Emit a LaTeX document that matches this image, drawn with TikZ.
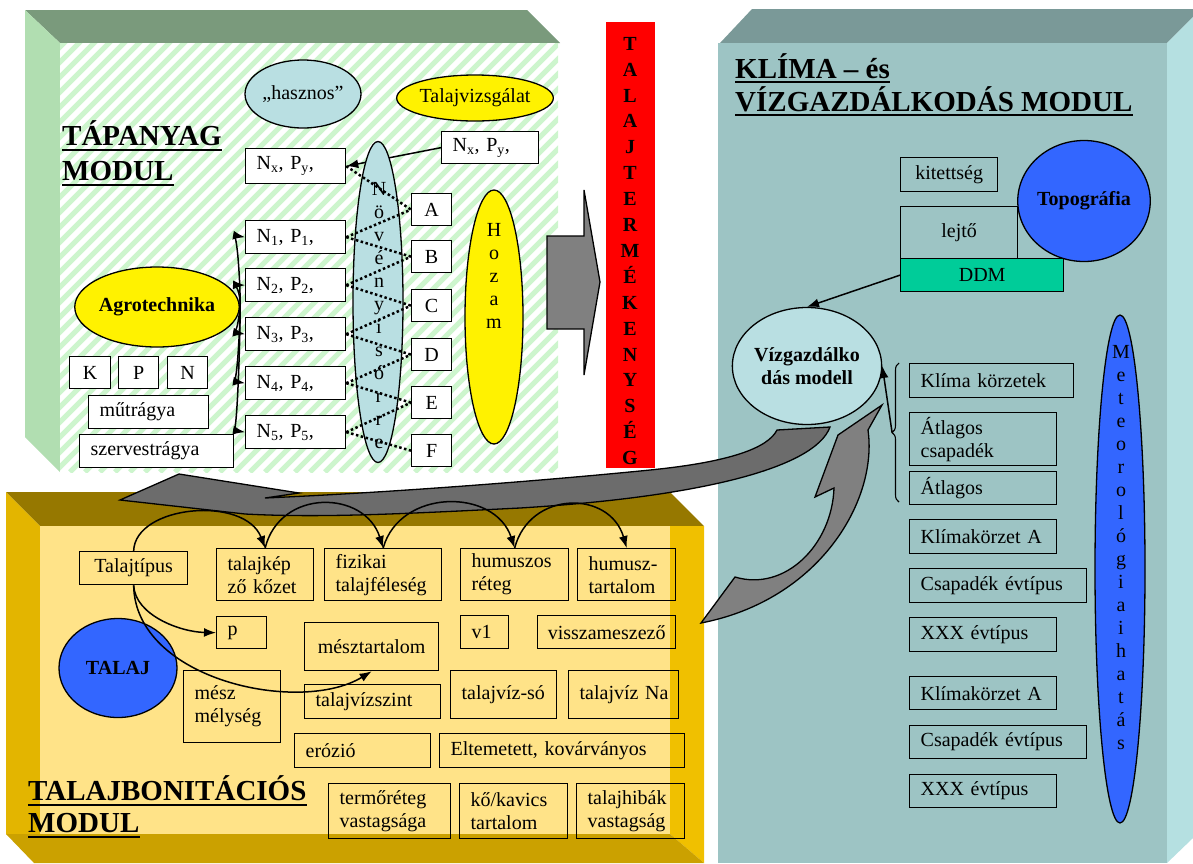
\documentclass[tikz,border=0pt]{standalone}
\usepackage{fontspec}
\setmainfont{Liberation Serif}
\usepackage{xcolor}
\usetikzlibrary{shapes,arrows,positioning,calc,shapes.geometric,arrows.meta,decorations.pathreplacing}
\definecolor{tapzold}{RGB}{122,154,124}
\definecolor{tapoldal}{RGB}{177,222,177}
\definecolor{tapcsik}{RGB}{205,245,205}
\definecolor{klteto}{RGB}{122,153,152}
\definecolor{klelo}{RGB}{157,196,196}
\definecolor{kloldal}{RGB}{181,224,225}
\definecolor{taltet}{RGB}{150,120,0}
\definecolor{talbal}{RGB}{227,181,0}
\definecolor{taljobb}{RGB}{240,192,0}
\definecolor{talalj}{RGB}{203,161,0}
\definecolor{talelo}{RGB}{255,227,136}
\definecolor{vkek}{RGB}{185,223,226}
\definecolor{mkek}{RGB}{51,102,255}
\definecolor{ddmzold}{RGB}{0,204,153}
\definecolor{nyil}{RGB}{128,128,128}
\definecolor{nyilsot}{RGB}{108,108,108}
\newcommand{\betu}{\fontsize{20}{23}\selectfont}
\newcommand{\cimbetu}{\fontsize{29}{33}\selectfont\bfseries}

\begin{document}
\begin{tikzpicture}[x=1pt,y=-1pt,
    doboz/.style={draw, line width=1.3pt, anchor=north west, inner sep=0pt, font=\betu, align=center},
    bdoboz/.style={doboz, align=left, inner xsep=11pt},
    ellip/.style={ellipse, draw, line width=1.3pt, inner sep=0pt, font=\betu},
    nyl/.style={line width=1.5pt, -{Latex[length=12pt,width=9pt]}},
    pont/.style={line width=2.5pt, dash pattern=on 2.5pt off 2.5pt},
    nagynyil/.style={draw=black, line width=1.3pt},
    cim/.style={anchor=base west, inner sep=0pt, font=\cimbetu},
    alahuz/.style={line width=2.6pt}]
\useasboundingbox (0,0) rectangle (1193,863);

% Tapanyag modul hattere
\fill[tapzold] (25,10) -- (527,10) -- (560,43) -- (60,43) -- cycle;
\fill[tapoldal] (25,10) -- (60,43) -- (60,472) -- (25,437) -- cycle;
\fill[white] (60,43) rectangle (558,472);
\begin{scope}
  \clip (60,43) rectangle (558,472);
  \foreach \s in {-440,-425,...,560}
    \draw[tapcsik, line width=5pt] (\s,472) -- ++(440,-440);
\end{scope}

% Klima modul hattere
\fill[klteto] (720,43) -- (752,9) -- (1193,9) -- (1193,17) -- (1167,43) -- cycle;
\fill[kloldal] (1167,43) -- (1193,17) -- (1193,838) -- (1167,863) -- cycle;
\fill[klelo] (718,43) rectangle (1167,863);

% Talaj modul hattere
\fill[taltet] (6,492) -- (670,492) -- (704,526) -- (40,526) -- cycle;
\fill[talbal] (6,492) -- (40,526) -- (40,834) -- (6,834) -- cycle;
\fill[taljobb] (670,526) -- (704,526) -- (704,863) -- (670,834) -- cycle;
\fill[talalj] (6,834) -- (670,834) -- (704,863) -- (34,863) -- cycle;
\fill[talelo] (40,526) rectangle (670,834);

% Talajtermekenyseg
\fill[red] (606,22) rectangle (655,468);
\begin{scope}
  \clip (606,22) rectangle (655,468);
  \node[font=\fontsize{20}{25.9}\selectfont\bfseries, align=center, inner sep=0pt] (termek) at (630,251)
    {T\\A\\L\\A\\J\\T\\E\\R\\M\\É\\K\\E\\N\\Y\\S\\É\\G};
\end{scope}
\filldraw[nagynyil, fill=nyil] (547,236) -- (584,236) -- (584,190) -- (600,282) -- (584,375) -- (584,329) -- (547,329) -- cycle;

% Tapanyag modul
\node[cim] (tapc1) at (62,145) {TÁPANYAG};
\node[cim] (tapc2) at (62,180) {MODUL};
\draw[alahuz] ([yshift=-5pt]tapc1.base west) -- ([yshift=-5pt]tapc1.base east);
\draw[alahuz] ([yshift=-5pt]tapc2.base west) -- ([yshift=-5pt]tapc2.base east);

\node[ellip, fill=vkek, minimum width=116pt, minimum height=68pt] (hasznos) at (303,94) {„hasznos”};
\node[ellip, fill=yellow, minimum width=150pt, minimum height=46pt] (vizsg) at (475,98) {Talajvizsgálat};

\node[bdoboz, fill=white, text width=78pt, minimum height=35pt] (nxl) at (245,148) {N\textsubscript{x}, P\textsubscript{y},};
\node[bdoboz, fill=white, text width=75pt, minimum height=32pt] (nxr) at (441,131) {N\textsubscript{x}, P\textsubscript{y},};
\draw[nyl] (nxr.west) -- (nxl.east);

\node[ellip, fill=vkek, minimum width=50pt, minimum height=321pt] (noveny) at (378,302) {};
\node[font=\betu, align=center, inner sep=0pt] (novbetu) at (379,316) {N\\ö\\v\\é\\n\\y\\i\\s\\ó\\r\\r\\e};

\foreach \i/\y in {1/220,2/268,3/317,4/366,5/415}
  \node[bdoboz, fill=white, text width=78pt, minimum height=33pt] (n\i) at (245,\y) {N\textsubscript{\i}, P\textsubscript{\i},};
\foreach \b/\y in {A/193,B/240,C/289,D/338,E/386,F/434}
  \node[doboz, fill=white, minimum width=40pt, minimum height=32pt] (b\b) at (411,\y) {\b};
\foreach \a/\b in {nxl/A,n1/A,n1/B,n2/B,n2/C,n3/C,n3/D,n4/D,n4/E,n5/E,n5/F}
  \draw[pont] (\a.east) -- (b\b.west);

\node[ellip, fill=yellow, minimum width=58pt, minimum height=254pt] (hozam) at (494,317) {};
\node[font=\betu, align=center, inner sep=0pt] (hozbetu) at (494,276) {H\\o\\z\\a\\m};

\node[ellip, fill=yellow, minimum width=156pt, minimum height=80pt, font=\betu\bfseries] (agro) at (157,307) {Agrotechnika};
\foreach \n/\c in {n1/236,n2/285,n3/333,n4/382,n5/431}
  \draw[nyl] (agro.east) .. controls (241,300) and (238,\c) .. (\n.west);

\node[doboz, fill=white, minimum width=41pt, minimum height=32pt] (kK) at (69,356) {K};
\node[doboz, fill=white, minimum width=40pt, minimum height=32pt] (kP) at (118,356) {P};
\node[doboz, fill=white, minimum width=40pt, minimum height=32pt] (kN) at (167,356) {N};
\node[bdoboz, fill=white, text width=98pt, minimum height=33pt] (mutr) at (88,395) {műtrágya};
\node[bdoboz, fill=white, text width=132pt, minimum height=33pt] (szerv) at (79,434) {szervestrágya};

% Klima - es vizgazdalkodas modul
\node[cim] (klc1) at (735,78) {KLÍMA – és};
\node[cim] (klc2) at (735,111) {VÍZGAZDÁLKODÁS MODUL};
\draw[alahuz] ([yshift=-4pt]klc1.base west) -- ([yshift=-4pt]klc1.base east);
\draw[alahuz] ([yshift=-4pt]klc2.base west) -- ([yshift=-4pt]klc2.base east);

\node[doboz, minimum width=97pt, minimum height=34pt] (kitett) at (900,157) {kitettség};
\node[doboz, minimum width=117pt, minimum height=52pt] (lejto) at (900,206) {lejtő};
\node[doboz, fill=ddmzold, minimum width=163pt, minimum height=33pt] (ddm) at (900,258) {DDM};
\node[ellip, fill=mkek, minimum width=118pt, minimum height=121pt, font=\betu\bfseries] (topo) at (1084,201) {Topográfia};

\node[ellip, fill=vkek, minimum width=147pt, minimum height=117pt, font=\betu\bfseries, align=center] (vizmod) at (807,366) {Vízgazdálko\\dás modell};
\draw[nyl] (ddm.west) -- (vizmod.north);

\node[bdoboz, text width=142pt, minimum height=34pt] (klk) at (909,363) {Klíma körzetek};
\node[bdoboz, text width=125pt, minimum height=53pt] (atl1) at (909,412) {Átlagos\\csapadék};
\node[bdoboz, text width=125pt, minimum height=33pt] (atl2) at (909,471) {Átlagos};
\node[bdoboz, text width=125pt, minimum height=34pt] (kka) at (909,519) {Klímakörzet A};
\node[bdoboz, text width=155pt, minimum height=34pt] (cse) at (909,568) {Csapadék évtípus};
\node[bdoboz, text width=125pt, minimum height=34pt] (xxa) at (909,617) {XXX évtípus};
\node[bdoboz, text width=125pt, minimum height=33pt] (kkb) at (909,676) {Klímakörzet A};
\node[bdoboz, text width=155pt, minimum height=33pt] (csf) at (909,725) {Csapadék évtípus};
\node[bdoboz, text width=125pt, minimum height=33pt] (xxb) at (909,774) {XXX évtípus};

\draw[line width=1.1pt, decorate, decoration={brace, amplitude=7pt}] (899,502) -- (899,363);
\coordinate (brtip) at (892,432);
\draw[nyl] (brtip) -- (vizmod.east);

\node[ellip, fill=mkek, minimum width=50pt, minimum height=508pt] (meteo) at (1120,569) {};
\node[font=\betu, align=center, inner sep=0pt] (metbetu) at (1121,548)
  {M\\e\\t\\e\\o\\r\\o\\l\\ó\\g\\i\\a\\i\\h\\a\\t\\á\\s};

% Talajbonitacios modul
\node[cim] (talc1) at (28,800) {TALAJBONITÁCIÓS};
\node[cim] (talc2) at (28,832) {MODUL};
\draw[alahuz] ([yshift=-5pt]talc1.base west) -- ([yshift=-5pt]talc1.base east);
\draw[alahuz] ([yshift=-5pt]talc2.base west) -- ([yshift=-5pt]talc2.base east);

\node[doboz, minimum width=108pt, minimum height=33pt] (talajtip) at (79,551) {Talajtípus};
\node[bdoboz, text width=75pt, minimum height=52pt] (talajkep) at (216,548) {talajkép\\ző kőzet};
\node[bdoboz, text width=95pt, minimum height=52pt] (fizikai) at (324,548) {fizikai\\talajféleség};
\node[bdoboz, text width=86pt, minimum height=52pt] (humuszos) at (460,548) {humuszos\\réteg};
\node[bdoboz, text width=76pt, minimum height=52pt] (humusz) at (577,548) {humusz-\\tartalom};
\node[bdoboz, text width=28pt, minimum height=32pt] (pbox) at (216,616) {p};
\node[doboz, minimum width=134pt, minimum height=48pt] (mesz) at (304,622) {mésztartalom};
\node[bdoboz, text width=26pt, minimum height=33pt] (vegy) at (460,615) {v1};
\node[doboz, minimum width=138pt, minimum height=33pt] (vissza) at (537,615) {visszameszező};
\node[bdoboz, text width=75pt, minimum height=72pt] (meszmely) at (183,670) {mész\\mélység};
\node[bdoboz, text width=114pt, minimum height=34pt] (tvszint) at (304,684) {talajvízszint};
\node[bdoboz, text width=84pt, minimum height=48pt] (tvso) at (450,670) {talajvíz-só};
\node[bdoboz, inner xsep=6pt, text width=98pt, minimum height=48pt] (tvna) at (568,670) {\hspace*{5pt}talajvíz Na};
\node[bdoboz, text width=114pt, minimum height=34pt] (erozio) at (294,733) {erózió};
\node[bdoboz, text width=223pt, minimum height=34pt] (eltem) at (439,733) {Eltemetett, kovárványos};
\node[bdoboz, text width=100pt, minimum height=55pt] (termo) at (328,783) {termőréteg\\vastagsága};
\node[bdoboz, text width=86pt, minimum height=55pt] (kavics) at (459,783) {kő/kavics\\tartalom};
\node[bdoboz, text width=86pt, minimum height=55pt] (hibak) at (576,783) {talajhibák\\vastagság};

\node[ellip, fill=mkek, minimum width=118pt, minimum height=99pt, font=\betu\bfseries] (talaj) at (118,668) {TALAJ};

% nagy ivelt nyilak
\filldraw[nagynyil, fill=nyilsot] (120,500) -- (179,474) -- (299,493) -- (265,498)
  .. controls (400,492) and (550,480) .. (650,470)
  .. controls (730,462) and (768,448) .. (777,430) -- (830,427)
  .. controls (815,468) and (700,497) .. (520,508)
  .. controls (400,514) and (320,518) .. (245,514) -- cycle;
\filldraw[nagynyil, fill=nyil] (701,623) -- (735,577)
  .. controls (785,592) and (832,545) .. (834,488)
  -- (815,497) -- (838,435) -- (882,405) -- (868,430)
  .. controls (878,500) and (820,600) .. (701,623) -- cycle;

% talaj kapcsolatok
\draw[nyl] (talajtip.north) .. controls (135,505) and (245,495) .. (talajkep.north);
\draw[nyl] (talajkep.north) .. controls (280,488) and (365,490) .. (fizikai.north);
\draw[nyl] (fizikai.north) .. controls (400,488) and (495,488) .. (humuszos.north);
\draw[nyl] (humuszos.north) .. controls (530,490) and (610,490) .. (humusz.north);
\draw[nyl] (talajtip.south) .. controls (135,615) and (180,632) .. (pbox.west);
\draw[nyl] (talajtip.south) .. controls (135,680) and (300,715) .. (mesz.south);
\end{tikzpicture}
\end{document}
